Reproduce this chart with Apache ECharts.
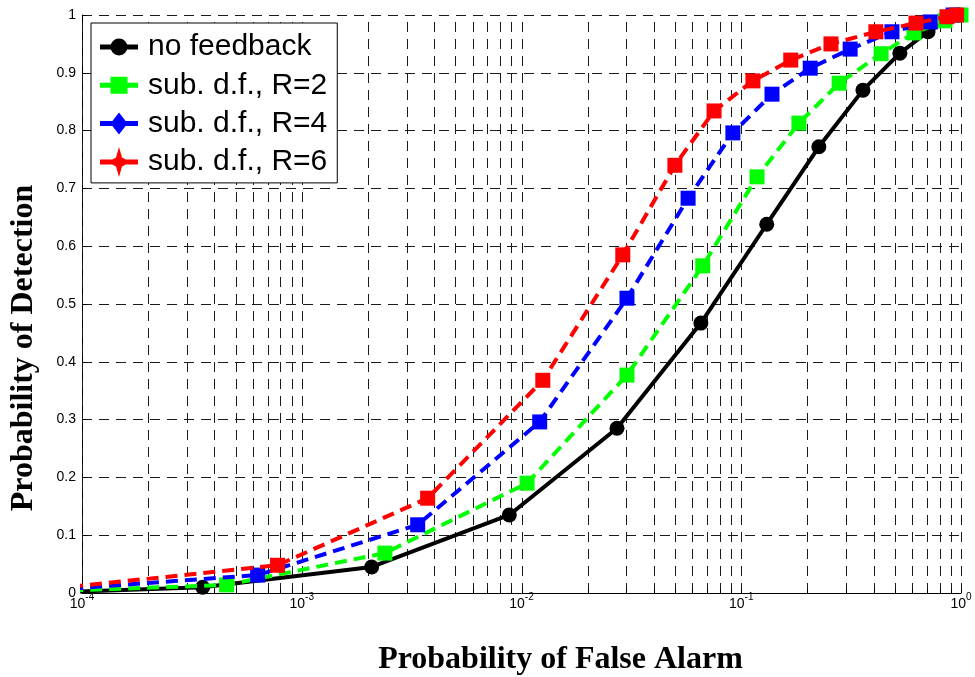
<!DOCTYPE html>
<html>
<head>
<meta charset="utf-8">
<script src="https://cdn.jsdelivr.net/npm/echarts@6/dist/echarts.min.js"></script>
<style>
html,body{margin:0;padding:0;background:#fff;}
#chart{width:975px;height:677px;}
</style>
</head>
<body>
<div id="chart"></div>
<script>
// ---- data ----
const seriesNames = ['no feedback', 'sub. d.f., R=2', 'sub. d.f., R=4', 'sub. d.f., R=6'];

const pfaNoFeedback = [6e-5, 3.54e-4, 2.08e-3, 8.8e-3, 0.0272, 0.0655, 0.1306, 0.2255, 0.358, 0.527, 0.708, 0.97];
const pdNoFeedback  = [0.000, 0.010, 0.045, 0.135, 0.285, 0.467, 0.638, 0.772, 0.870, 0.934, 0.971, 1.000];

const pfaR2 = [6e-5, 4.55e-4, 2.39e-3, 0.0106, 0.0302, 0.0668, 0.118, 0.183, 0.279, 0.433, 0.611, 0.845, 1.0];
const pdR2  = [0.002, 0.014, 0.069, 0.190, 0.377, 0.566, 0.720, 0.813, 0.882, 0.933, 0.969, 0.990, 1.000];

const pfaR4 = [6e-5, 6.3e-4, 3.37e-3, 0.0121, 0.0302, 0.0573, 0.0916, 0.138, 0.206, 0.313, 0.485, 0.723, 0.92];
const pdR4  = [0.003, 0.031, 0.118, 0.296, 0.510, 0.683, 0.796, 0.863, 0.908, 0.941, 0.971, 0.988, 1.000];

const pfaR6 = [6e-5, 7.76e-4, 3.74e-3, 0.0125, 0.0289, 0.0499, 0.0752, 0.113, 0.168, 0.256, 0.41, 0.624, 0.863, 0.955];
const pdR6  = [0.004, 0.048, 0.164, 0.368, 0.585, 0.740, 0.834, 0.886, 0.922, 0.950, 0.971, 0.986, 0.997, 1.000];

// axis ticks
const xMin = 1e-4, xMax = 1;
const yTicks = [0, 0.1, 0.2, 0.3, 0.4, 0.5, 0.6, 0.7, 0.8, 0.9, 1];
const decadeStarts = [1e-4, 1e-3, 1e-2, 1e-1];
const minorMultipliers = [2, 3, 4, 5, 6, 7, 8, 9];

// ---- build ----
function pairs(xs, ys) { return xs.map((x, i) => [x, ys[i]]); }

// vertical grid positions: every decade (major) and 2..9 within each decade (minor)
const gridXValues = [];
decadeStarts.forEach(d => minorMultipliers.forEach(m => gridXValues.push(d * m)));
decadeStarts.forEach(d => gridXValues.push(d));
gridXValues.push(xMax);

const gridDash = [10, 7];
const gridColor = '#1a1a1a';
const yMin = yTicks[0], yMax = yTicks[yTicks.length - 1];

const legendIcons = [
  'path://M0,6 L38,6 L38,11 L0,11 Z M27.5,8.5 A8.5,8.5 0 1,1 10.5,8.5 A8.5,8.5 0 1,1 27.5,8.5 Z',
  'path://M0,6 L10.5,6 L10.5,0 L27.5,0 L27.5,6 L38,6 L38,11 L27.5,11 L27.5,17 L10.5,17 L10.5,11 L0,11 Z',
  'path://M0,8.5 L12.4,8.5 L19,0 L25.6,8.5 L38,8.5 L38,13.5 L25.6,13.5 L19,22 L12.4,13.5 L0,13.5 Z',
  'path://M0,12.5 L38,12.5 L38,17.5 L0,17.5 Z M19,0 L22,10.5 L30.5,15 L22,19.5 L19,30 L16,19.5 L7.5,15 L16,10.5 Z'
];

const colors = ['#000000', '#00ff00', '#0000ff', '#ff0000'];
const dataSets = [pairs(pfaNoFeedback, pdNoFeedback), pairs(pfaR2, pdR2), pairs(pfaR4, pdR4), pairs(pfaR6, pdR6)];
const symbols = ['circle', 'rect', 'rect', 'rect'];

const series = [{
  name: 'xGrid',
  type: 'custom',
  silent: true,
  z: 1,
  clip: false,
  data: gridXValues.map(v => [v, yMin]),
  encode: { x: 0, y: 1 },
  renderItem: function (params, api) {
    const x = api.value(0);
    const p0 = api.coord([x, yMin]);
    const p1 = api.coord([x, yMax]);
    const px = Math.round(p0[0]) + 0.5;
    return {
      type: 'group',
      children: [
        { type: 'line', silent: true,
          shape: { x1: px, y1: p0[1], x2: px, y2: p1[1] },
          style: { stroke: gridColor, lineWidth: 1, lineDash: gridDash } },
        { type: 'line', silent: true,
          shape: { x1: px, y1: p0[1], x2: px, y2: p0[1] - 4 },
          style: { stroke: '#000', lineWidth: 1 } }
      ]
    };
  },
  animation: false
}];

seriesNames.forEach((name, i) => {
  series.push({
    name: name,
    type: 'line',
    data: dataSets[i],
    symbol: symbols[i],
    symbolSize: 15,
    showSymbol: true,
    clip: true,
    z: 3 + i,
    itemStyle: { color: colors[i] },
    lineStyle: { color: colors[i], width: 4, type: i === 0 ? 'solid' : [12, 7] },
    emphasis: { disabled: true },
    animation: false
  });
});

const chart = echarts.init(document.getElementById('chart'), null, { renderer: 'canvas' });
chart.setOption({
  backgroundColor: '#ffffff',
  animation: false,
  grid: { left: 82, right: 14, top: 15, bottom: 84, containLabel: false, outerBoundsMode: 'none' },
  xAxis: {
    type: 'log',
    logBase: 10,
    min: xMin,
    max: xMax,
    splitNumber: 4,
    name: 'Probability of False Alarm',
    nameLocation: 'middle',
    nameGap: 51,
    nameTextStyle: {
      fontFamily: 'Liberation Serif', fontWeight: 'bold', fontSize: 32, color: '#000',
      padding: [0, 0, 0, 78]
    },
    axisLine: { show: true, onZero: false, lineStyle: { color: '#000', width: 1 } },
    axisTick: { show: false },
    axisLabel: {
      margin: 4,
      color: '#000',
      formatter: function (v) {
        const e = Math.round(Math.log10(v));
        return '{b|10}{s|' + e + '}';
      },
      rich: {
        b: { fontFamily: 'Liberation Sans', fontSize: 14, color: '#000', lineHeight: 14, verticalAlign: 'bottom' },
        s: { fontFamily: 'Liberation Sans', fontSize: 10, color: '#000', lineHeight: 10, padding: [0, 0, 9, 0], verticalAlign: 'bottom' }
      }
    },
    splitLine: { show: false },
    minorTick: { show: false },
    minorSplitLine: { show: false }
  },
  yAxis: {
    type: 'value',
    min: yMin,
    max: yMax,
    interval: 0.1,
    name: 'Probability of Detection',
    nameLocation: 'middle',
    nameGap: 42,
    nameTextStyle: {
      fontFamily: 'Liberation Serif', fontWeight: 'bold', fontSize: 32, color: '#000',
      padding: [0, 88, 0, 0]
    },
    axisLine: { show: true, onZero: false, lineStyle: { color: '#000', width: 1 } },
    axisTick: { show: true, inside: true, length: 5, lineStyle: { color: '#000' } },
    axisLabel: { margin: 6, color: '#000', fontFamily: 'Liberation Sans', fontSize: 14 },
    splitLine: { show: true, lineStyle: { type: gridDash, color: gridColor, width: 1 } }
  },
  legend: {
    show: true,
    left: 91,
    top: 23,
    orient: 'vertical',
    align: 'left',
    backgroundColor: '#ffffff',
    borderColor: '#000',
    borderWidth: 1,
    borderRadius: 0,
    padding: [9, 10, 6, 9],
    itemWidth: 38,
    itemHeight: 30,
    itemGap: 8.3,
    symbolKeepAspect: true,
    selectedMode: false,
    textStyle: { fontFamily: 'Liberation Sans', fontSize: 30, color: '#000', padding: [0, 0, 0, 5] },
    data: seriesNames.map((n, i) => ({ name: n, icon: legendIcons[i], symbolKeepAspect: true }))
  },
  series: series
});
</script>
</body>
</html>
